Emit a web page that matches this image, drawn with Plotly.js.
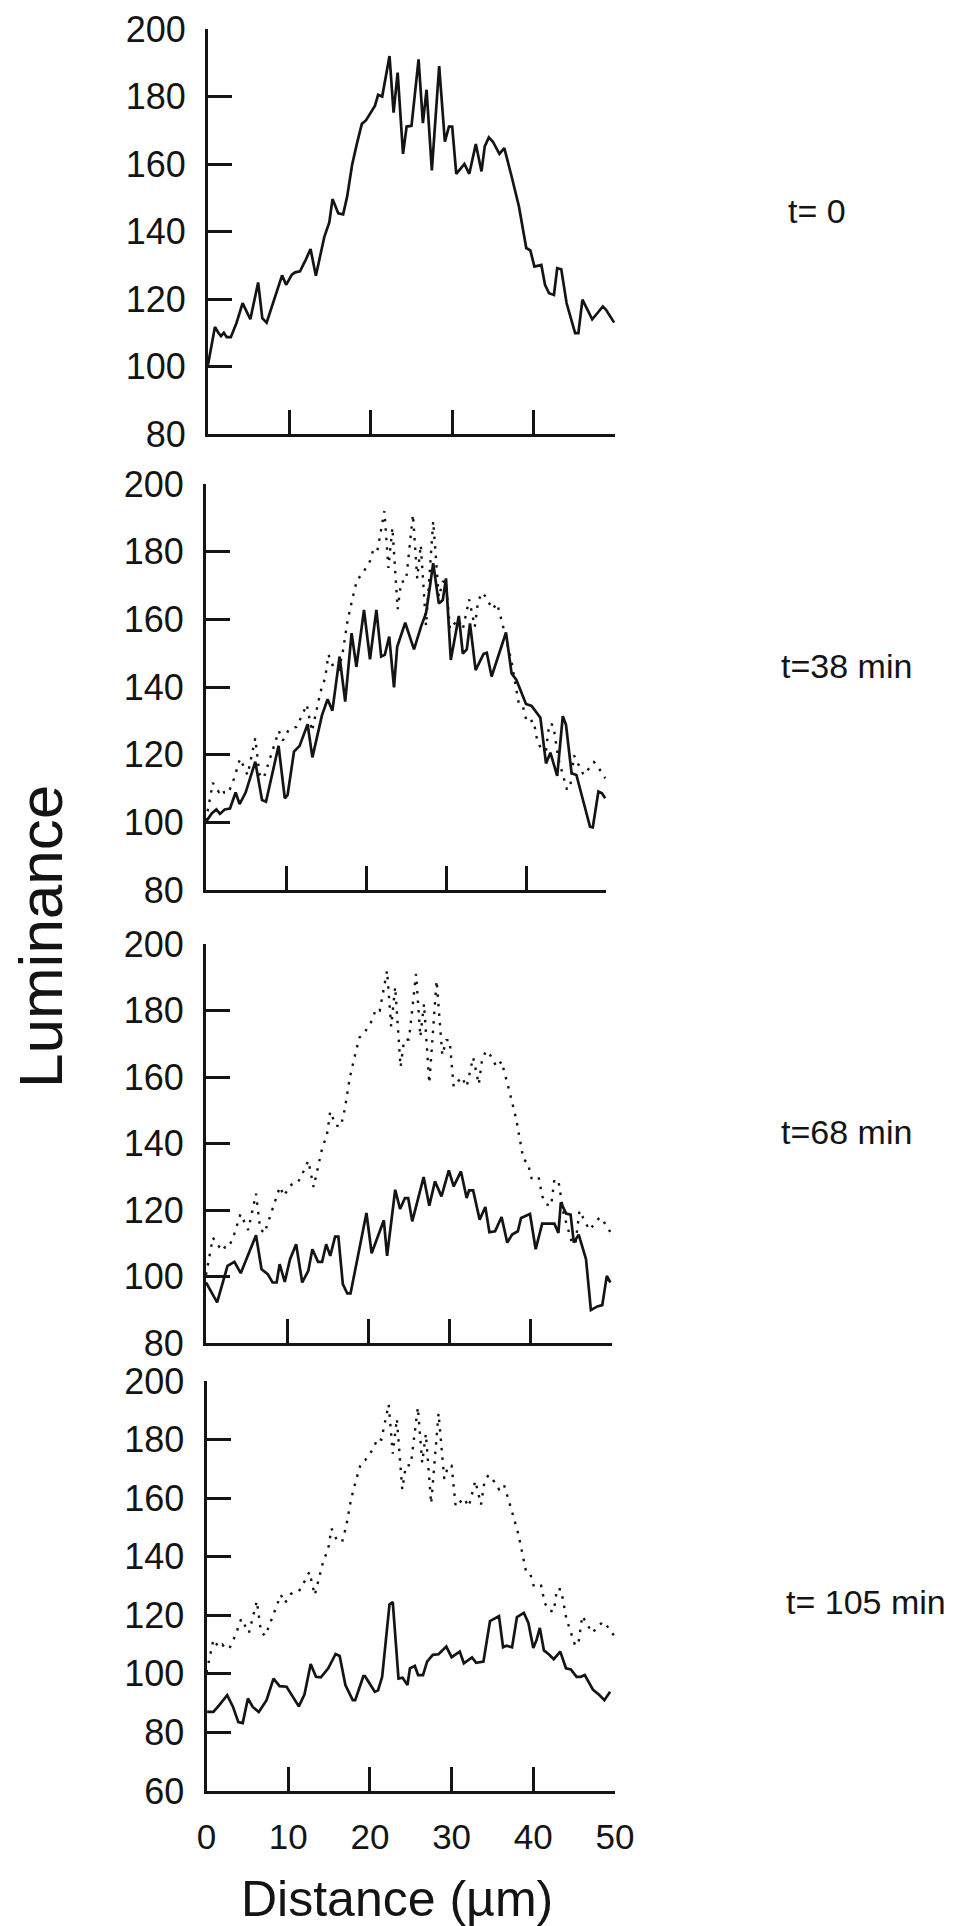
<!DOCTYPE html>
<html>
<head>
<meta charset="utf-8">
<script src="https://cdn.plot.ly/plotly-3.0.1.min.js"></script>
<style>html,body{margin:0;padding:0;background:#fff;}#chart{width:966px;height:1926px;}</style>
</head>
<body>
<div id="chart"></div>
<script>
// ---- data ----
const t0_x = [0,0.85,1.27,1.6,1.95,2.3,2.8,3.5,4.25,5.2,6.16,6.67,7.2,8.16,9.1,9.6,10.3,10.7,11.3,12,12.6,13.25,14.3,14.9,15.3,16,16.6,17.1,17.7,18.3,18.9,19.4,20.05,20.5,20.9,21.4,22.3,22.8,23.3,23.96,24.4,25,25.87,26.4,26.85,27.5,28.4,29.1,29.6,30,30.5,31.5,32.1,32.9,33.6,34,34.5,35,35.8,36.4,37.3,38.2,39.1,39.6,40.1,40.95,41.4,41.9,42.5,42.9,43.4,44.05,45.1,45.5,46,47.2,47.9,48.5,48.9,49.9];
const t0_y = [100.5,111.7,110,109,110,108.7,108.7,112.9,118.8,114,124.9,114.3,113,120.3,127,124.2,127.2,127.9,128.2,131.6,134.8,126.9,138.5,142.7,149.6,145.4,145.1,150.4,159.7,166.1,171.9,172.9,175.7,177.2,180.5,180,192,175.2,187.1,163,171.1,171.3,191,172.1,182,158.1,189,166.6,171.1,171.1,157.1,160,157.1,165.9,157.8,165.2,167.9,166.6,163,164.7,156.3,147.4,135.1,134.4,129.6,130.1,124.2,121.7,121.2,129.1,128.8,118.8,109.9,109.9,119.8,114,116,117.8,116.8,113];

const t38_x = [0,0.74,1.3,1.74,2.34,3.0,3.7,4.2,4.95,6.16,7.0,7.5,9.07,9.85,10.2,11.0,11.7,12.7,13.3,14.5,15.2,15.8,16.7,17.4,18.2,18.8,19.75,20.5,21.3,21.9,22.35,22.9,23.5,23.9,24.9,26.0,26.9,27.5,27.9,28.4,29.1,29.6,30.0,30.6,31.6,32.1,32.6,33.0,33.7,34.7,35.1,35.7,37.5,38.2,38.8,40.0,40.7,41.8,42.5,43.05,43.9,44.6,45.0,45.7,46.3,47.4,48.0,48.35,49.05,49.5,49.9];
const t38_y = [100.2,102.7,103.8,102.5,103.8,104.1,108.8,105.4,108.8,117.9,106.6,106.1,122.6,107.1,108.1,120.9,122.6,129,119.2,131.7,136.4,133,149,135.7,155.9,146,162.8,148.2,162.8,149,149.5,154.9,139.9,151.9,159,151.1,158,161.8,168.2,176.6,164.7,165.7,172.1,148,161,149.9,151.1,158.8,145,149.8,150.1,143.1,156.1,144,142.1,135,134.4,130.9,117.4,120.6,113.7,131.4,128.8,114.5,114,104.6,98.7,98.5,109.1,108.6,107.1];

const t68_x = [0,1.37,2.65,3.5,4.28,5.2,6.16,6.84,7.6,8.2,8.7,9.07,9.7,10.35,11.1,11.85,12.6,13.1,13.8,14.3,14.8,15.3,15.9,16.3,16.85,17.4,17.8,19.76,20.4,21.9,22.3,23.3,23.9,24.5,24.9,25.4,26.8,27.5,28.2,29.0,29.9,30.5,31.4,32.1,32.4,32.9,33.7,34.4,34.9,35.6,36.4,37.1,37.7,38.4,38.8,39.9,40.6,41.4,42.0,42.9,43.4,43.7,44.35,44.9,45.3,45.9,46.8,47.4,48.2,48.8,49.36,49.8];
const t68_y = [98.2,92.2,103.2,104.4,101,106.7,112.4,102.2,100.7,98.2,98.2,103.7,98.4,105.2,109.7,98.2,101.7,108.2,104.4,104.4,109.7,106.2,112,112,97.7,94.9,94.9,119.1,107,116.9,106.2,126.1,120.3,123.6,123.6,116.6,129.9,121.3,128.6,124.1,131.9,127.1,131.6,123.6,125.9,125.9,117.1,120.9,113.3,113.6,117.9,110.2,112.6,113.6,117.6,118.8,108.2,115.9,115.9,115.9,113.1,122.3,118.9,118.6,110.2,112.6,105.2,89.9,91,91.4,100.2,98.2];

const t105_x = [0.08,0.84,1.56,2.53,3.25,3.9,4.43,5.07,5.66,6.4,7.35,8.2,8.95,9.8,11.3,12.0,12.75,13.4,14.0,14.9,15.8,16.3,17.0,17.9,18.2,19.2,19.4,20.6,21.0,21.5,22.4,22.8,23.5,24.0,24.6,24.9,25.5,25.9,26.5,27.0,27.7,28.4,29.35,30.0,31.0,31.5,32.5,33.0,33.9,34.7,35.8,36.3,36.7,37.4,38.0,38.85,39.4,40.0,40.4,40.8,41.3,41.9,42.5,43.3,44.0,44.6,45.3,45.8,46.3,47.3,48.0,48.7,49.4];
const t105_y = [87,87,89.3,92.7,88.7,83.5,83.2,91.6,88.7,87,91,98.4,95.8,95.6,88.9,93,103.4,99,98.8,101.9,106.8,106.1,96.2,91,91,99.2,99.2,93.9,94.4,99,123.7,124.5,98.4,98.7,96.2,101.9,102.7,99.6,99.6,104.2,106.5,106.7,109.3,105.7,107.6,103.6,105.6,103.8,104.2,118,119.7,109.1,109.6,109.1,119.4,120.8,117.4,108.8,111.6,115.7,108,106.7,105,107.6,101.9,101.5,99,99,99.6,94.6,93,91,93.9];

const xTicks = [0,10,20,30,40,50];
const yTicksTop = [80,100,120,140,160,180,200];
const yTicksBottom = [60,80,100,120,140,160,180,200];
const panelLabels = ["t= 0","t=38 min","t=68 min","t= 105 min"];
const xTitle = "Distance (\u00b5m)";
const yTitle = "Luminance";

// ---- layout geometry (pixels) ----
const W = 966, H = 1926;
const px = v => v / W;
const py = v => 1 - v / H;
const panels = [
  {x0:208, x1:615, y0:29,   y1:434,  yr:[80,200], yt:yTicksTop},
  {x0:206, x1:606, y0:484,  y1:890,  yr:[80,200], yt:yTicksTop},
  {x0:206, x1:612, y0:944,  y1:1343, yr:[80,200], yt:yTicksTop},
  {x0:206.5, x1:615, y0:1381, y1:1791, yr:[60,200], yt:yTicksBottom}
];
const solids = [[t0_x,t0_y],[t38_x,t38_y],[t68_x,t68_y],[t105_x,t105_y]];
const ink = '#141414';
const FONT = 'Liberation Sans, Arial, Helvetica, sans-serif';

const traces = [];
const layout = {
  width: W, height: H, autosize: false,
  margin: {l:0, r:0, t:0, b:0},
  paper_bgcolor: '#fff', plot_bgcolor: 'rgba(0,0,0,0)',
  showlegend: false,
  font: {family: FONT, color: ink},
  annotations: []
};

panels.forEach((p, i) => {
  const n = i + 1;
  const xa = 'xaxis' + (n === 1 ? '' : n), ya = 'yaxis' + (n === 1 ? '' : n);
  const xr = 'x' + (n === 1 ? '' : n), yr = 'y' + (n === 1 ? '' : n);
  if (i > 0) {
    traces.push({x: t0_x, y: t0_y, xaxis: xr, yaxis: yr, type: 'scatter', mode: 'lines',
      line: {color: ink, width: 2.4, dash: '2.5px,7px'}, hoverinfo: 'skip'});
  }
  traces.push({x: solids[i][0], y: solids[i][1], xaxis: xr, yaxis: yr, type: 'scatter', mode: 'lines',
    line: {color: ink, width: 2.7}, hoverinfo: 'skip'});
  layout[xa] = {
    domain: [px(p.x0), px(p.x1)], range: [0, 50], anchor: yr,
    showline: true, linecolor: ink, linewidth: 3, zeroline: false, showgrid: false,
    ticks: 'inside', ticklen: 24, tickwidth: 3, tickcolor: ink,
    tickmode: 'array', tickvals: xTicks, ticktext: xTicks.map(String),
    showticklabels: i === 3, ticklabelstandoff: 13,
    tickfont: {size: 35, family: FONT, color: ink}, fixedrange: true
  };
  layout[ya] = {
    domain: [py(p.y1), py(p.y0)], range: p.yr, anchor: xr,
    showline: true, linecolor: ink, linewidth: 3, zeroline: false, showgrid: false,
    ticks: 'inside', ticklen: 24, tickwidth: 3, tickcolor: ink,
    tickmode: 'array', tickvals: p.yt, ticktext: p.yt.map(String),
    ticklabelstandoff: 12,
    tickfont: {size: 36, family: FONT, color: ink}, fixedrange: true
  };
});

const labelY = [211, 666, 1132, 1602];
const labelX = [786, 779, 779, 784];
panelLabels.forEach((t, i) => {
  layout.annotations.push({text: t, xref: 'paper', yref: 'paper', x: px(labelX[i]), y: py(labelY[i]),
    xanchor: 'left', yanchor: 'middle', showarrow: false, font: {size: 34, family: FONT, color: ink}});
});
layout.annotations.push({text: xTitle, xref: 'paper', yref: 'paper', x: px(397), y: py(1899),
  xanchor: 'center', yanchor: 'middle', showarrow: false, font: {size: 50, family: FONT, color: ink}});
layout.annotations.push({text: yTitle, xref: 'paper', yref: 'paper', x: px(40), y: py(937),
  xanchor: 'center', yanchor: 'middle', textangle: -90, showarrow: false, font: {size: 62, family: FONT, color: ink}});

Plotly.newPlot('chart', traces, layout, {displayModeBar: false, staticPlot: true});
</script>
</body>
</html>
